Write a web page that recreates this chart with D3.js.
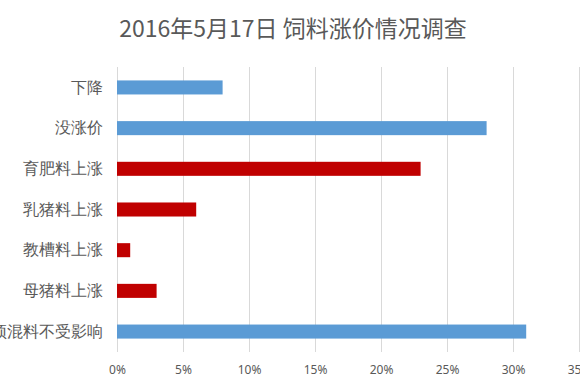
<!DOCTYPE html>
<html>
<head>
<meta charset="utf-8">
<script src="https://cdn.jsdelivr.net/npm/d3@7"></script>
<style>
  body { margin: 0; background: #fff; }
  svg { display: block; font-family: "Noto Sans CJK SC", "Noto Sans", sans-serif; }
</style>
</head>
<body>
<div id="chart"></div>
<script>
// survey categories, top to bottom
const categories = ["下降", "没涨价", "育肥料上涨", "乳猪料上涨", "教槽料上涨", "母猪料上涨", "预混料不受影响"];
// share of answers, percent
const values = [8, 28, 23, 6, 1, 3, 31];
// rising prices drawn in red, the others in blue
const isRise = [false, false, true, true, true, true, false];
const tickValues = [0, 5, 10, 15, 20, 25, 30, 35];

const width = 580, height = 378;
const margin = { top: 67, right: 1, bottom: 26, left: 117 };
const chartWidth = width - margin.left - margin.right;
const chartHeight = height - margin.top - margin.bottom;

const svg = d3.select("#chart")
    .append("svg")
    .attr("width", width)
    .attr("height", height);

// Title
svg.append("text")
    .attr("x", 293)
    .attr("y", 37)
    .attr("text-anchor", "middle")
    .attr("fill", "#595959")
    .style("font-size", "23px")
    .text("2016年5月17日 饲料涨价情况调查");

const g = svg.append("g")
    .attr("transform", `translate(${margin.left},${margin.top})`);

const xScale = d3.scaleLinear()
    .domain([0, 35])
    .range([0, chartWidth]);

const yScale = d3.scaleBand()
    .domain(categories)
    .range([0, chartHeight])
    .paddingInner(0.655)
    .paddingOuter(0.33);

// vertical grid lines
g.append("g")
    .attr("transform", `translate(0,${chartHeight})`)
    .call(d3.axisBottom(xScale)
        .tickValues(tickValues)
        .tickSize(-chartHeight)
        .tickFormat(""))
    .call(ax => ax.select(".domain").remove())
    .selectAll("line")
    .attr("stroke", "#d9d9d9");

// x tick labels
g.append("g")
    .attr("transform", `translate(0,${chartHeight})`)
    .call(d3.axisBottom(xScale)
        .tickValues(tickValues)
        .tickSize(0)
        .tickPadding(13)
        .tickFormat(d => d + "%"))
    .call(ax => ax.select(".domain").remove())
    .selectAll("text")
    .attr("fill", "#595959")
    .style("font-size", "12px")
    .style("font-family", "'Liberation Sans Narrow', 'Noto Sans', sans-serif");

// bars
g.selectAll(".bar")
    .data(categories)
    .enter()
    .append("rect")
    .attr("class", "bar")
    .attr("x", 0)
    .attr("y", d => yScale(d))
    .attr("width", (d, i) => xScale(values[i]))
    .attr("height", yScale.bandwidth())
    .attr("fill", (d, i) => isRise[i] ? "#c00000" : "#5b9bd5");

// category labels
g.append("g")
    .call(d3.axisLeft(yScale).tickSize(0).tickPadding(14))
    .call(ax => ax.select(".domain").remove())
    .selectAll("text")
    .attr("fill", "#595959")
    .style("font-size", "16px");
</script>
</body>
</html>
